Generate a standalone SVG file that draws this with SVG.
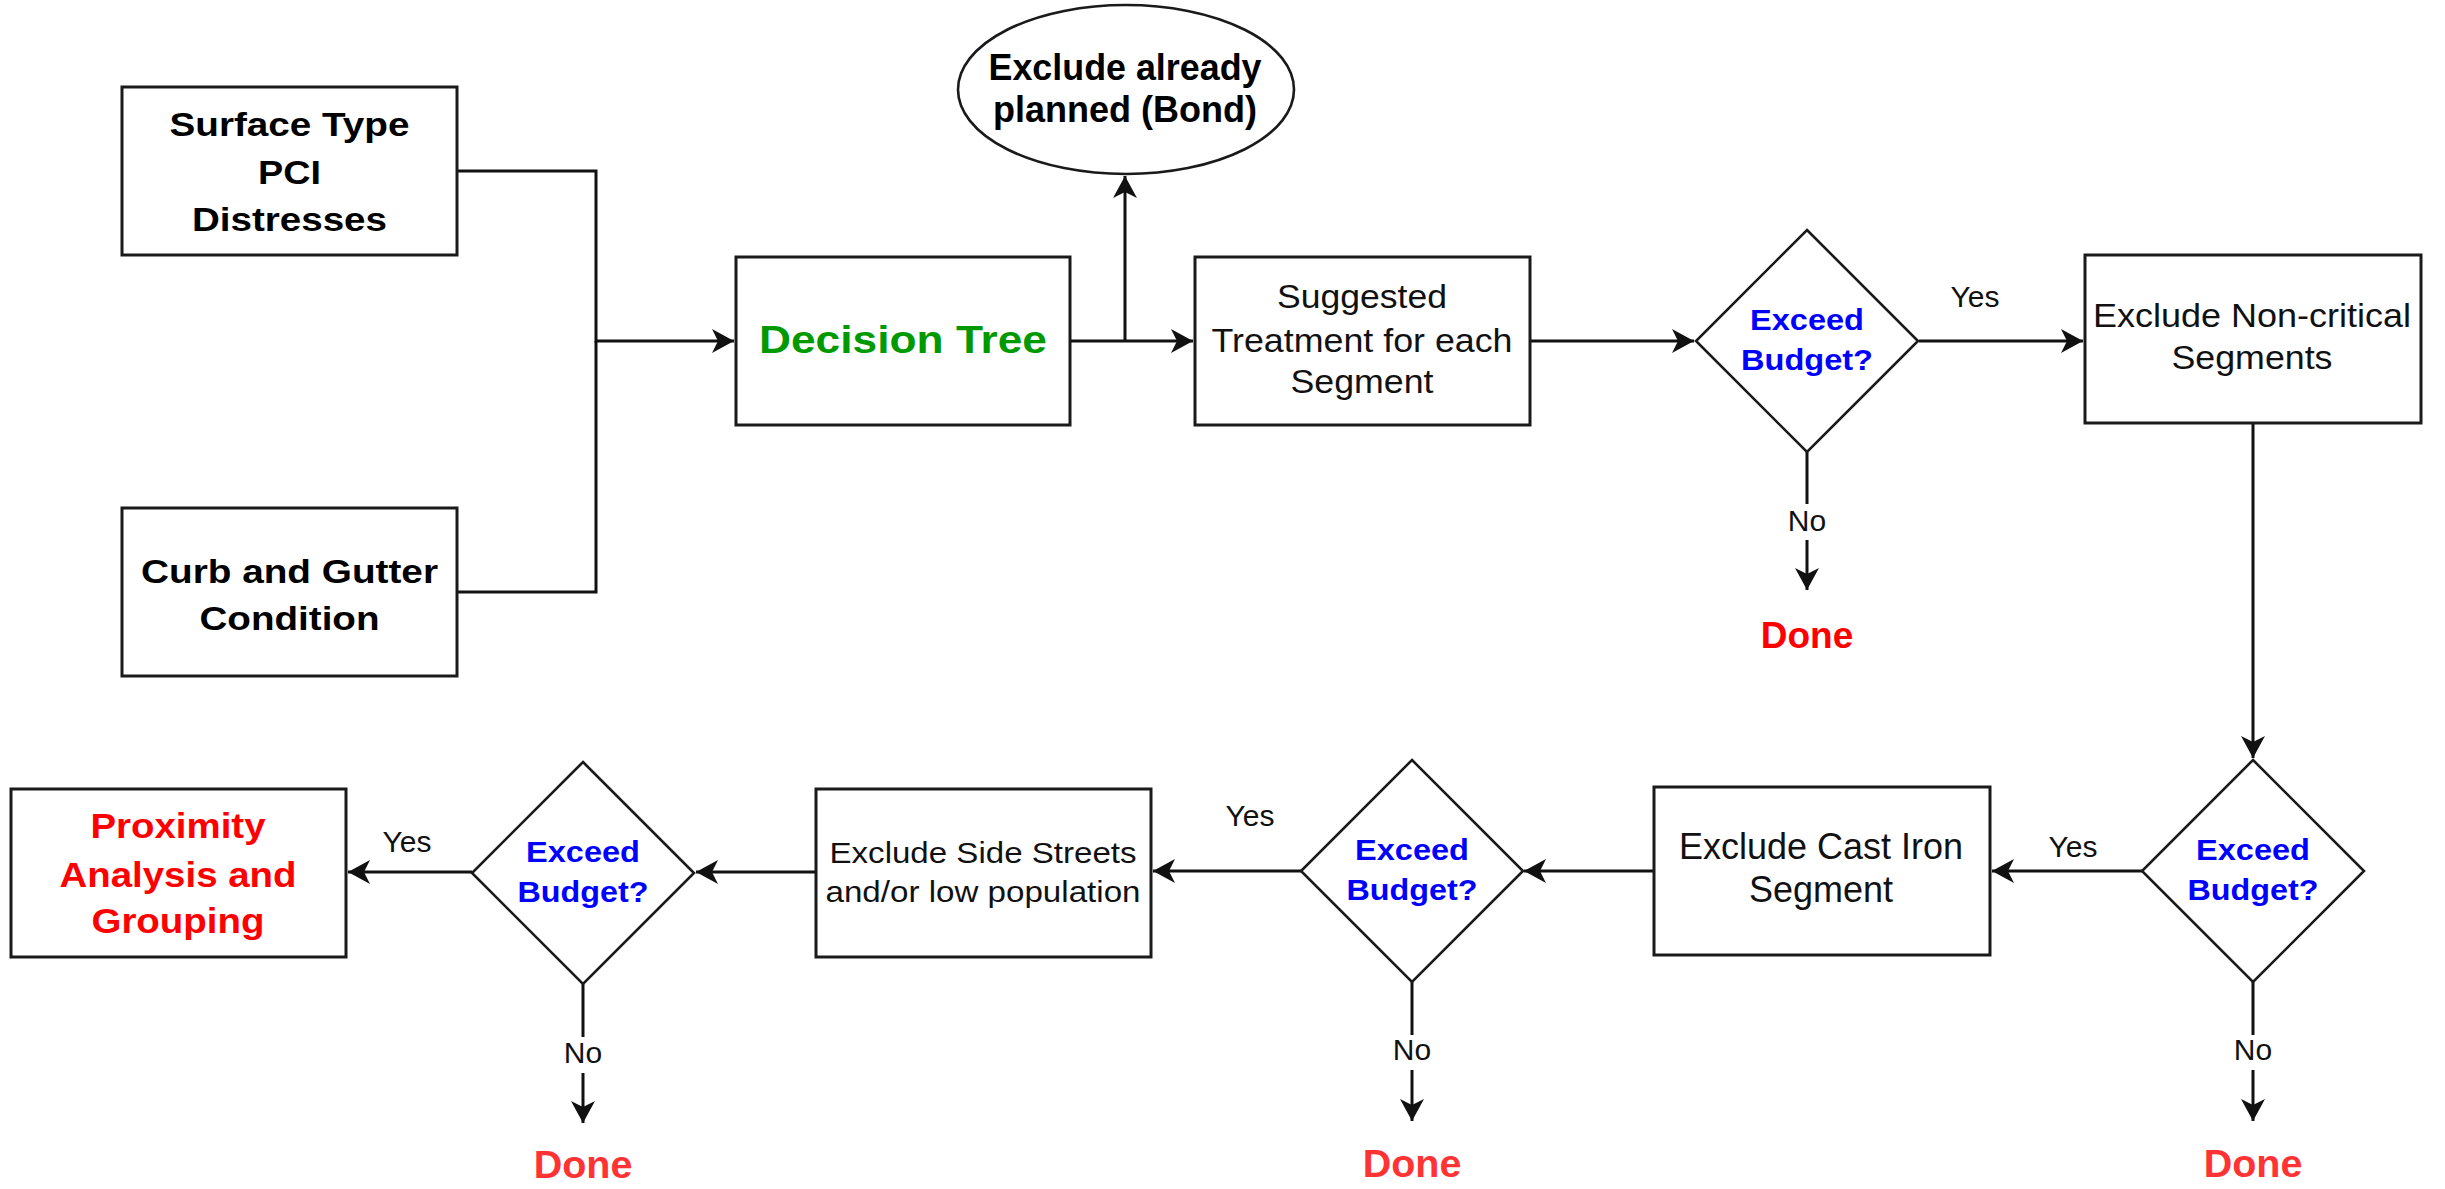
<svg xmlns="http://www.w3.org/2000/svg" width="2445" height="1189" viewBox="0 0 2445 1189">
<style>
text{font-family:"Liberation Sans",Arial,sans-serif;text-anchor:middle}
.box{fill:#fff;stroke:#1a1a1a;stroke-width:3}
.dia{fill:#fff;stroke:#1a1a1a;stroke-width:2.6}
.edge{fill:none;stroke:#111;stroke-width:3}
.bk{fill:#000;font-weight:bold}
.rg{fill:#111}
.dt{fill:#009900;font-weight:bold;font-size:39.5px}
.bl{fill:#0000ff;font-weight:bold;font-size:30px}
.rd{fill:#ff0000;font-weight:bold}
.lbl{fill:#111;font-size:30px}
.done{fill:#ff0000;font-weight:bold;font-size:37px}
.done2{fill:#ff3333;font-weight:bold;font-size:39.5px}
</style>
<defs>
<marker id="arr" markerUnits="userSpaceOnUse" markerWidth="24" markerHeight="26" refX="22" refY="12" orient="auto">
<path d="M0,0 L22,12 L0,24 L6,12 Z" fill="#111"/>
</marker>
</defs>

<g id="connectors">
<path class="edge" d="M457,171 H596 V341 H734" marker-end="url(#arr)"/>
<path class="edge" d="M457,592 H596 V341"/>
<path class="edge" d="M1070,341 H1193" marker-end="url(#arr)"/>
<path class="edge" d="M1125,341 V176" marker-end="url(#arr)"/>
<path class="edge" d="M1530,341 H1694" marker-end="url(#arr)"/>
<path class="edge" d="M1919,341 H2083" marker-end="url(#arr)"/>
<path class="edge" d="M1807,452 V590" marker-end="url(#arr)"/>
<path class="edge" d="M2253,423 V758" marker-end="url(#arr)"/>
<path class="edge" d="M2142,871 H1992" marker-end="url(#arr)"/>
<path class="edge" d="M2253,982 V1121" marker-end="url(#arr)"/>
<path class="edge" d="M1654,871 H1524" marker-end="url(#arr)"/>
<path class="edge" d="M1301,871 H1153" marker-end="url(#arr)"/>
<path class="edge" d="M1412,982 V1121" marker-end="url(#arr)"/>
<path class="edge" d="M816,872 H696" marker-end="url(#arr)"/>
<path class="edge" d="M472,872 H348" marker-end="url(#arr)"/>
<path class="edge" d="M583,984 V1123" marker-end="url(#arr)"/>
<rect x="1785" y="504" width="45" height="36" fill="#fff"/>
<rect x="2231" y="1035" width="45" height="35" fill="#fff"/>
<rect x="1390" y="1035" width="45" height="35" fill="#fff"/>
<rect x="561" y="1037" width="45" height="36" fill="#fff"/>
<text class="lbl" x="1975" y="307">Yes</text>
<text class="lbl" x="1807" y="531">No</text>
<text class="lbl" x="2073" y="857">Yes</text>
<text class="lbl" x="2253" y="1060">No</text>
<text class="lbl" x="1250" y="826">Yes</text>
<text class="lbl" x="1412" y="1060">No</text>
<text class="lbl" x="407" y="852">Yes</text>
<text class="lbl" x="583" y="1063">No</text>
</g>

<g id="surface">
<rect class="box" x="122" y="87" width="335" height="168"/>
<text class="bk" font-size="34" x="289.5" y="136" textLength="240" lengthAdjust="spacingAndGlyphs">Surface Type</text>
<text class="bk" font-size="34" x="289.5" y="184" textLength="63" lengthAdjust="spacingAndGlyphs">PCI</text>
<text class="bk" font-size="34" x="289.5" y="231" textLength="195" lengthAdjust="spacingAndGlyphs">Distresses</text>
</g>

<g id="curb">
<rect class="box" x="122" y="508" width="335" height="168"/>
<text class="bk" font-size="34" x="289.5" y="583" textLength="297" lengthAdjust="spacingAndGlyphs">Curb and Gutter</text>
<text class="bk" font-size="34" x="289.5" y="630" textLength="180" lengthAdjust="spacingAndGlyphs">Condition</text>
</g>

<g id="decision">
<rect class="box" x="736" y="257" width="334" height="168"/>
<text class="dt" x="903" y="353" textLength="288" lengthAdjust="spacingAndGlyphs">Decision Tree</text>
</g>

<g id="exclude-planned">
<ellipse class="dia" cx="1126" cy="89.5" rx="168" ry="84.5"/>
<text class="bk" font-size="36" x="1125" y="80" textLength="273" lengthAdjust="spacingAndGlyphs">Exclude already</text>
<text class="bk" font-size="36" x="1125" y="122" textLength="264" lengthAdjust="spacingAndGlyphs">planned (Bond)</text>
</g>

<g id="suggested">
<rect class="box" x="1195" y="257" width="335" height="168"/>
<text class="rg" font-size="32.6" x="1362" y="308" textLength="170" lengthAdjust="spacingAndGlyphs">Suggested</text>
<text class="rg" font-size="32.6" x="1362" y="352" textLength="301" lengthAdjust="spacingAndGlyphs">Treatment for each</text>
<text class="rg" font-size="32.6" x="1362" y="393" textLength="143" lengthAdjust="spacingAndGlyphs">Segment</text>
</g>

<g id="budget1">
<polygon class="dia" points="1807,230 1918,341 1807,452 1696,341"/>
<text class="bl" x="1807" y="330" textLength="114" lengthAdjust="spacingAndGlyphs">Exceed</text>
<text class="bl" x="1807" y="370" textLength="132" lengthAdjust="spacingAndGlyphs">Budget?</text>
</g>

<g id="done1">
<text class="done" x="1807" y="648">Done</text>
</g>

<g id="noncritical">
<rect class="box" x="2085" y="255" width="336" height="168"/>
<text class="rg" font-size="34" x="2252" y="327" textLength="318" lengthAdjust="spacingAndGlyphs">Exclude Non-critical</text>
<text class="rg" font-size="34" x="2252" y="369" textLength="161" lengthAdjust="spacingAndGlyphs">Segments</text>
</g>

<g id="budget4">
<polygon class="dia" points="2253,760 2364,871 2253,982 2142,871"/>
<text class="bl" x="2253" y="860" textLength="114" lengthAdjust="spacingAndGlyphs">Exceed</text>
<text class="bl" x="2253" y="900" textLength="131" lengthAdjust="spacingAndGlyphs">Budget?</text>
</g>

<g id="done4">
<text class="done2" x="2253" y="1177">Done</text>
</g>

<g id="castiron">
<rect class="box" x="1654" y="787" width="336" height="168"/>
<text class="rg" font-size="36" x="1821" y="859" textLength="284" lengthAdjust="spacingAndGlyphs">Exclude Cast Iron</text>
<text class="rg" font-size="36" x="1821" y="902" textLength="144" lengthAdjust="spacingAndGlyphs">Segment</text>
</g>

<g id="budget3">
<polygon class="dia" points="1412,760 1523,871 1412,982 1301,871"/>
<text class="bl" x="1412" y="860" textLength="114" lengthAdjust="spacingAndGlyphs">Exceed</text>
<text class="bl" x="1412" y="900" textLength="131" lengthAdjust="spacingAndGlyphs">Budget?</text>
</g>

<g id="done3">
<text class="done2" x="1412" y="1177">Done</text>
</g>

<g id="sidestreets">
<rect class="box" x="816" y="789" width="335" height="168"/>
<text class="rg" font-size="30" x="983" y="863" textLength="307" lengthAdjust="spacingAndGlyphs">Exclude Side Streets</text>
<text class="rg" font-size="30" x="983" y="902" textLength="315" lengthAdjust="spacingAndGlyphs">and/or low population</text>
</g>

<g id="budget2">
<polygon class="dia" points="583,762 694,873 583,984 472,873"/>
<text class="bl" x="583" y="862" textLength="114" lengthAdjust="spacingAndGlyphs">Exceed</text>
<text class="bl" x="583" y="902" textLength="131" lengthAdjust="spacingAndGlyphs">Budget?</text>
</g>

<g id="done2">
<text class="done2" x="583" y="1178">Done</text>
</g>

<g id="proximity">
<rect class="box" x="11" y="789" width="335" height="168"/>
<text class="rd" font-size="35" x="178" y="838" textLength="175" lengthAdjust="spacingAndGlyphs">Proximity</text>
<text class="rd" font-size="35" x="178" y="887" textLength="237" lengthAdjust="spacingAndGlyphs">Analysis and</text>
<text class="rd" font-size="35" x="178" y="933" textLength="173" lengthAdjust="spacingAndGlyphs">Grouping</text>
</g>
</svg>
